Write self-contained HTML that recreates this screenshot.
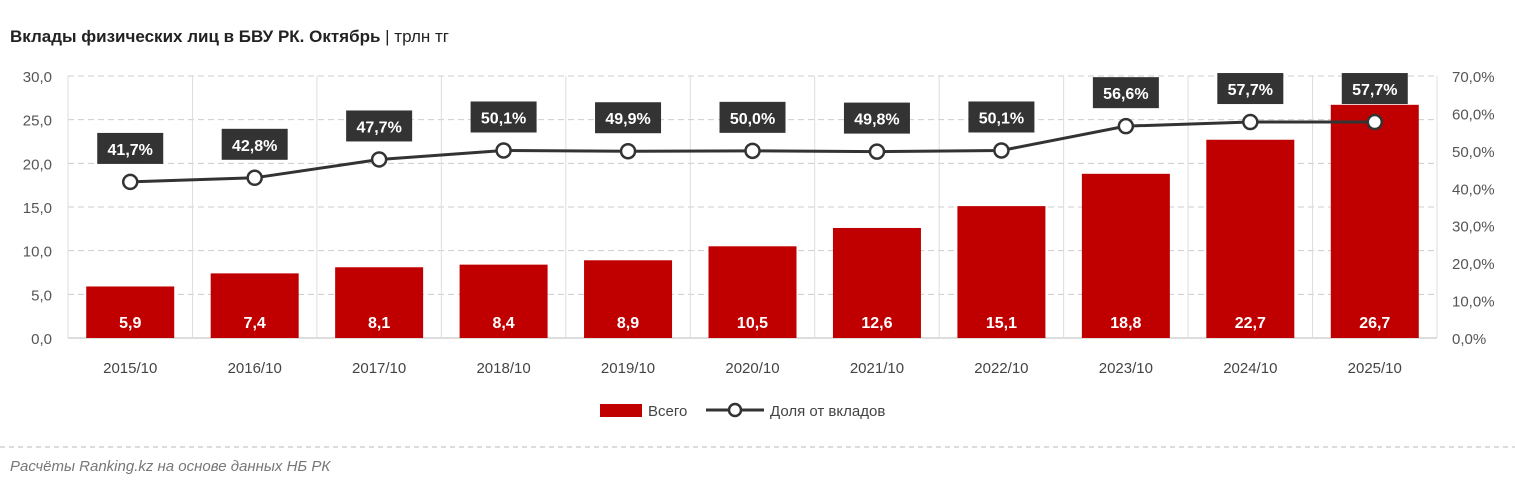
<!DOCTYPE html>
<html><head><meta charset="utf-8"><style>
body{margin:0;background:#fff;}
svg{display:block;font-family:"Liberation Sans","DejaVu Sans",sans-serif;}
</style></head><body>
<svg id="s" width="1515" height="487" xmlns="http://www.w3.org/2000/svg">
<text x="10" y="42" font-size="17" font-weight="bold" fill="#222">Вклады физических лиц в БВУ РК. Октябрь <tspan font-weight="normal">| трлн тг</tspan></text>
<g id="g"></g>
<line x1="0" y1="447" x2="1515" y2="447" stroke="#bbb" stroke-dasharray="5,4"/>
<text x="10" y="471" font-size="15" font-style="italic" fill="#777">Расчёты Ranking.kz на основе данных НБ РК</text>
<rect x="600" y="404" width="42" height="13" fill="#c00000"/>
<text x="648" y="416" font-size="15" fill="#444">Всего</text>
<line x1="706" y1="410" x2="764" y2="410" stroke="#333" stroke-width="3"/>
<circle cx="735" cy="410" r="6" fill="#fff" stroke="#333" stroke-width="2.5"/>
<text x="770" y="416" font-size="15" fill="#444">Доля от вкладов</text>
</svg>
<script>
var g=document.getElementById('g'),h='';
var L=68,R=1437,Y0=338,W=(R-L)/11;
var vals=[5.9,7.4,8.1,8.4,8.9,10.5,12.6,15.1,18.8,22.7,26.7];
var pct=[41.7,42.8,47.7,50.1,49.9,50.0,49.8,50.1,56.6,57.7,57.7];
for(var i=0;i<=6;i++){var y=Y0-i*262/6;
h+='<line x1="'+L+'" y1="'+y+'" x2="'+R+'" y2="'+y+'" stroke="'+(i==0?'#bbb':'#ccc')+'" '+(i==0?'':'stroke-dasharray="6,4"')+'/>';
h+='<text x="52" y="'+(y+6)+'" font-size="15" fill="#555" text-anchor="end">'+(i*5).toFixed(1).replace('.',',')+'</text>';}
for(var i=0;i<=7;i++){var y=Y0-i*262/7;
h+='<text x="1452" y="'+(y+6)+'" font-size="15" fill="#555">'+(i*10).toFixed(1).replace('.',',')+'%</text>';}
for(var i=0;i<=11;i++){var x=L+i*W;h+='<line x1="'+x+'" y1="76" x2="'+x+'" y2="'+Y0+'" stroke="#ddd"/>';}
var pts=[];
for(var i=0;i<11;i++){var c=L+W*(i+0.5),t=Y0-vals[i]*262/30;
h+='<rect x="'+(c-44)+'" y="'+t+'" width="88" height="'+(Y0-t)+'" fill="#c00000"/>';
h+='<text x="'+c+'" y="328" font-size="16" font-weight="bold" fill="#fff" text-anchor="middle">'+vals[i].toFixed(1).replace('.',',')+'</text>';
h+='<text x="'+c+'" y="373" font-size="15" fill="#444" text-anchor="middle">'+(2015+i)+'/10</text>';
pts.push([c,Y0-pct[i]*262/70]);}
h+='<polyline points="'+pts.map(function(p){return p.join(',')}).join(' ')+'" fill="none" stroke="#333" stroke-width="3"/>';
for(var i=0;i<11;i++){var p=pts[i];
h+='<circle cx="'+p[0]+'" cy="'+p[1]+'" r="7" fill="#fff" stroke="#333" stroke-width="2.5"/>';
h+='<rect x="'+(p[0]-33)+'" y="'+(p[1]-49)+'" width="66" height="31" fill="#333"/>';
h+='<text x="'+p[0]+'" y="'+(p[1]-27)+'" font-size="16" font-weight="bold" fill="#fff" text-anchor="middle">'+pct[i].toFixed(1).replace('.',',')+'%</text>';}
g.innerHTML=h;
</script>
</body></html>
